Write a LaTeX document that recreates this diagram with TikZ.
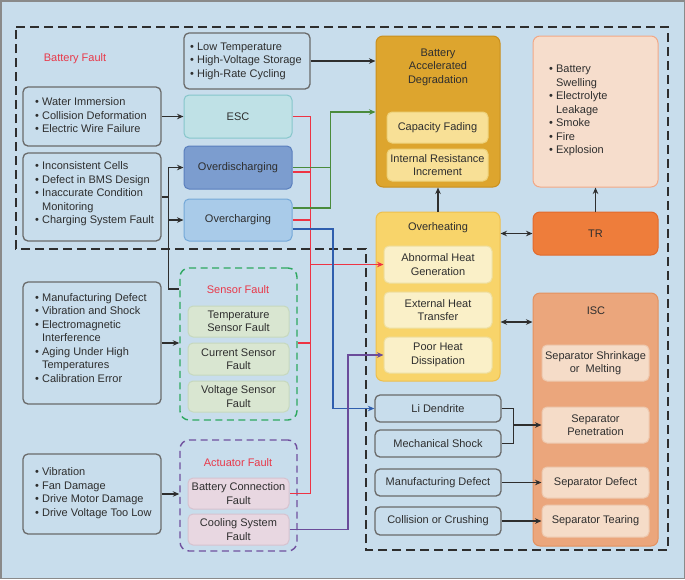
\documentclass[tikz,border=0pt]{standalone}
\usepackage{fontspec}
\setmainfont{Liberation Sans}
\usetikzlibrary{arrows.meta}
\definecolor{bg}{HTML}{C8DDEC}
\definecolor{framec}{HTML}{8A8A8A}
\definecolor{txt}{HTML}{2E2E2E}
\definecolor{lgray}{HTML}{6A6A6A}
\definecolor{escf}{HTML}{BFE1E6}\definecolor{escd}{HTML}{86C6CB}
\definecolor{odisf}{HTML}{7C9DCF}\definecolor{odisd}{HTML}{5A7FBE}
\definecolor{ochgf}{HTML}{A9CBE9}\definecolor{ochgd}{HTML}{74A8D8}
\definecolor{badf}{HTML}{DDA52E}\definecolor{badd}{HTML}{C98F1E}
\definecolor{capfc}{HTML}{F8E096}\definecolor{capd}{HTML}{EDD27A}
\definecolor{consf}{HTML}{F6DDCC}\definecolor{consd}{HTML}{F2A886}
\definecolor{ohf}{HTML}{F8D46A}\definecolor{ohd}{HTML}{EEBF4E}
\definecolor{heatf}{HTML}{FAF0C8}\definecolor{heatd}{HTML}{EEDFA0}
\definecolor{trf}{HTML}{EE7D3B}\definecolor{trd}{HTML}{E26A2C}
\definecolor{iscf}{HTML}{EBA67C}\definecolor{iscd}{HTML}{E3915F}
\definecolor{iscif}{HTML}{F5DCC8}\definecolor{iscid}{HTML}{EDC8AE}
\definecolor{sensf}{HTML}{D9E6D1}\definecolor{sensd}{HTML}{C6D8BE}
\definecolor{actf}{HTML}{E8D7E1}\definecolor{actd}{HTML}{D6C2CF}
\definecolor{redt}{HTML}{E8394A}
\definecolor{redl}{HTML}{EE3344}
\definecolor{grnl}{HTML}{4A8B3C}
\definecolor{grnd}{HTML}{2DA860}
\definecolor{blul}{HTML}{2F5EAE}
\definecolor{purl}{HTML}{6B4C9A}
\definecolor{purd}{HTML}{70509E}
\tikzset{
  every node/.style={font=\fontsize{11}{13.5}\selectfont, text=txt},
  lbox/.style={draw=lgray, fill=bg, rounded corners=5pt, line width=1.3pt, align=center, inner sep=1pt},
  ltext/.style={inner sep=0pt, anchor=west},
  cbox/.style={rounded corners=5pt, line width=1pt, align=center, inner sep=1pt},
  bigbox/.style={rounded corners=7pt, line width=1pt},
  ttl/.style={inner sep=0pt, align=center},
  redttl/.style={inner sep=0pt, align=center, text=redt},
  outl/.style={draw=txt, line width=1.4pt, dash pattern=on 9pt off 5pt},
  grp/.style={line width=1.4pt, dash pattern=on 7pt off 4.5pt, rounded corners=9pt},
  con/.style={line width=1.3pt, draw=txt},
  arr/.style={con, -{Stealth[length=6.5pt,width=5.5pt]}},
  darr/.style={con, {Stealth[length=6.5pt,width=5.5pt]}-{Stealth[length=6.5pt,width=5.5pt]}},
  rl/.style={line width=1.3pt, draw=redl},
  gl/.style={line width=1.3pt, draw=grnl},
  bll/.style={line width=1.3pt, draw=blul},
  pl/.style={line width=1.3pt, draw=purl},
  tip/.style={-{Stealth[length=6.5pt,width=5.5pt]}},
}
\begin{document}
\begin{tikzpicture}[x=1pt,y=-1pt]
\useasboundingbox (0,0) rectangle (685,579);
\draw[fill=bg, draw=framec, line width=1.5pt] (0.75,0.75) rectangle (684.25,578.25);
\draw[outl] (16,27) -- (668,27) -- (668,550) -- (366,550) -- (366,249) -- (16,249) -- cycle;

\node[redttl] (bfault) at (75,59) {Battery Fault};

% left list boxes
\node[lbox, minimum width=126, minimum height=56] (lowT) at (247,61) {};
\node[ltext] (lowTt) at (190,61) {\begin{tabular}{@{}l@{ }l@{}}\textbullet&Low Temperature\\\textbullet&High-Voltage Storage\\\textbullet&High-Rate Cycling\end{tabular}};

\node[lbox, minimum width=138, minimum height=59] (water) at (92,116.5) {};
\node[ltext] (watert) at (35,116.5) {\begin{tabular}{@{}l@{ }l@{}}\textbullet&Water Immersion\\\textbullet&Collision Deformation\\\textbullet&Electric Wire Failure\end{tabular}};

\node[lbox, minimum width=138, minimum height=88] (incons) at (92,197) {};
\node[ltext] (inconst) at (35,194) {\begin{tabular}{@{}l@{ }l@{}}\textbullet&Inconsistent Cells\\\textbullet&Defect in BMS Design\\\textbullet&Inaccurate Condition\\&Monitoring\\\textbullet&Charging System Fault\end{tabular}};

\node[lbox, minimum width=138, minimum height=122] (mlist) at (92,343) {};
\node[ltext] (mlistt) at (35,339) {\begin{tabular}{@{}l@{ }l@{}}\textbullet&Manufacturing Defect\\\textbullet&Vibration and Shock\\\textbullet&Electromagnetic\\&Interference\\\textbullet&Aging Under High\\&Temperatures\\\textbullet&Calibration Error\end{tabular}};

\node[lbox, minimum width=138, minimum height=80] (vlist) at (92,494) {};
\node[ltext] (vlistt) at (35,493.5) {\begin{tabular}{@{}l@{ }l@{}}\textbullet&Vibration\\\textbullet&Fan Damage\\\textbullet&Drive Motor Damage\\\textbullet&Drive Voltage Too Low\end{tabular}};

% battery faults
\node[cbox, fill=escf, draw=escd, minimum width=108, minimum height=43] (esc) at (238,116.5) {ESC};
\node[cbox, fill=odisf, draw=odisd, minimum width=108, minimum height=43] (odis) at (238,167.5) {Overdischarging};
\node[cbox, fill=ochgf, draw=ochgd, minimum width=108, minimum height=42] (ochg) at (238,220) {Overcharging};

% sensor fault group
\node[grp, draw=grnd, minimum width=117, minimum height=152] (sensor) at (238.5,344) {};
\node[redttl] (sensort) at (238,290) {Sensor Fault};
\node[cbox, fill=sensf, draw=sensd, minimum width=101, minimum height=31] (tsf) at (238.5,321.5) {Temperature\\Sensor Fault};
\node[cbox, fill=sensf, draw=sensd, minimum width=101, minimum height=32] (csf) at (238.5,359) {Current Sensor\\Fault};
\node[cbox, fill=sensf, draw=sensd, minimum width=101, minimum height=31] (vsf) at (238.5,396.5) {Voltage Sensor\\Fault};

% actuator fault group
\node[grp, draw=purd, minimum width=117, minimum height=111] (act) at (238.5,495.5) {};
\node[redttl] (actt) at (238,463) {Actuator Fault};
\node[cbox, fill=actf, draw=actd, minimum width=101, minimum height=31] (bcf) at (238.5,493.5) {Battery Connection\\Fault};
\node[cbox, fill=actf, draw=actd, minimum width=101, minimum height=31] (csysf) at (238.5,529.5) {Cooling System\\Fault};

% degradation
\node[bigbox, fill=badf, draw=badd, minimum width=124, minimum height=151] (bad) at (438,111.5) {};
\node[ttl] (badt) at (438,67) {Battery\\Accelerated\\Degradation};
\node[cbox, fill=capfc, draw=capd, minimum width=101, minimum height=31] (capf) at (437.5,127.5) {Capacity Fading};
\node[cbox, fill=capfc, draw=capd, minimum width=101, minimum height=32] (irinc) at (437.5,165) {Internal Resistance\\Increment};

% consequences
\node[bigbox, fill=consf, draw=consd, minimum width=125, minimum height=151] (cons) at (595.5,111.5) {};
\node[ltext] (const) at (549,110.5) {\begin{tabular}{@{}l@{ }l@{}}\textbullet&Battery\\&Swelling\\\textbullet&Electrolyte\\&Leakage\\\textbullet&Smoke\\\textbullet&Fire\\\textbullet&Explosion\end{tabular}};

% overheating
\node[bigbox, fill=ohf, draw=ohd, minimum width=124, minimum height=169] (oh) at (438,296.5) {};
\node[ttl] (oht) at (438,228) {Overheating};
\node[cbox, fill=heatf, draw=heatd, minimum width=108, minimum height=37] (ahg) at (438,264.5) {Abnormal Heat\\Generation};
\node[cbox, fill=heatf, draw=heatd, minimum width=108, minimum height=36] (eht) at (438,310) {External Heat\\Transfer};
\node[cbox, fill=heatf, draw=heatd, minimum width=108, minimum height=36] (phd) at (438,355) {Poor Heat\\Dissipation};

% TR
\node[cbox, rounded corners=7pt, fill=trf, draw=trd, minimum width=125, minimum height=43] (tr) at (595.5,233.5) {TR};

% ISC
\node[bigbox, fill=iscf, draw=iscd, minimum width=125, minimum height=253] (isc) at (595.5,419.5) {};
\node[ttl] (isct) at (596,311) {ISC};
\node[cbox, fill=iscif, draw=iscid, minimum width=107, minimum height=36] (ssm) at (595.5,363) {Separator Shrinkage\\or \ Melting};
\node[cbox, fill=iscif, draw=iscid, minimum width=107, minimum height=36] (spen) at (595.5,425) {Separator\\Penetration};
\node[cbox, fill=iscif, draw=iscid, minimum width=107, minimum height=31] (sdef) at (595.5,482.5) {Separator Defect};
\node[cbox, fill=iscif, draw=iscid, minimum width=107, minimum height=32] (stear) at (595.5,521) {Separator Tearing};

% ISC causes
\node[lbox, minimum width=126, minimum height=27] (lid) at (438,408.5) {Li Dendrite};
\node[lbox, minimum width=126, minimum height=27] (mshock) at (438,443.5) {Mechanical Shock};
\node[lbox, minimum width=126, minimum height=27] (mdef) at (438,482.5) {Manufacturing Defect};
\node[lbox, minimum width=126, minimum height=28] (coll) at (438,521) {Collision or Crushing};

% black connectors
\draw[arr] (lowT.east) -- (lowT.east -| bad.west);
\draw[arr] (water.east) -- (esc.west);
\draw[con] (incons.east) -- ++(7,0) coordinate (jb);
\draw[arr] (jb) |- (odis.west);
\draw[arr] (jb) |- (ochg.west);
\draw[con] (jb) |- ([yshift=55pt]sensor.west);
\draw[arr] (mlist.east) -- (mlist.east -| sensor.west);
\draw[arr] (vlist.east) -- (vlist.east -| act.west);
\draw[arr] (oh.north) -- (bad.south);
\draw[arr] (tr.north) -- (cons.south);
\draw[darr] (oh.east |- tr.west) -- (tr.west);
\draw[darr] ([yshift=97.5pt]isc.west) coordinate (q) -- (q -| oh.east);
\draw[con] (lid.east) -- ++(12,0) coordinate (k) |- (mshock.east);
\draw[arr] (k |- spen.west) -- (spen.west);
\draw[arr] (mdef.east) -- (sdef.west);
\draw[arr] (coll.east) -- (stear.west);

% red connectors
\draw[rl] (esc.east) -- ++(18,0) coordinate (r1) -- (r1 |- bcf.east) -- (bcf.east);
\draw[rl] ([yshift=-4.5pt]odis.east) coordinate (r2) -- (r2 -| r1);
\draw[rl] (ochg.east) -- (ochg.east -| r1);
\draw[rl] ([yshift=1pt]sensor.east) coordinate (r3) -- (r3 -| r1);
\draw[rl, tip] (r1 |- ahg.west) -- (ahg.west);

% green connectors
\draw[gl] (odis.east) -- ++(38,0) coordinate (g1);
\draw[gl, tip] ([yshift=12pt]ochg.east) -| (g1) |- ([yshift=-0.5pt]bad.west);

% blue connector
\draw[bll, tip] ([yshift=-9pt]ochg.east) -| (333,408.5) coordinate (b1) -- (lid.west);

% purple connector
\draw[pl, tip] (csysf.east) -| (348,355) coordinate (p1) -- (phd.west);
\end{tikzpicture}
\end{document}
